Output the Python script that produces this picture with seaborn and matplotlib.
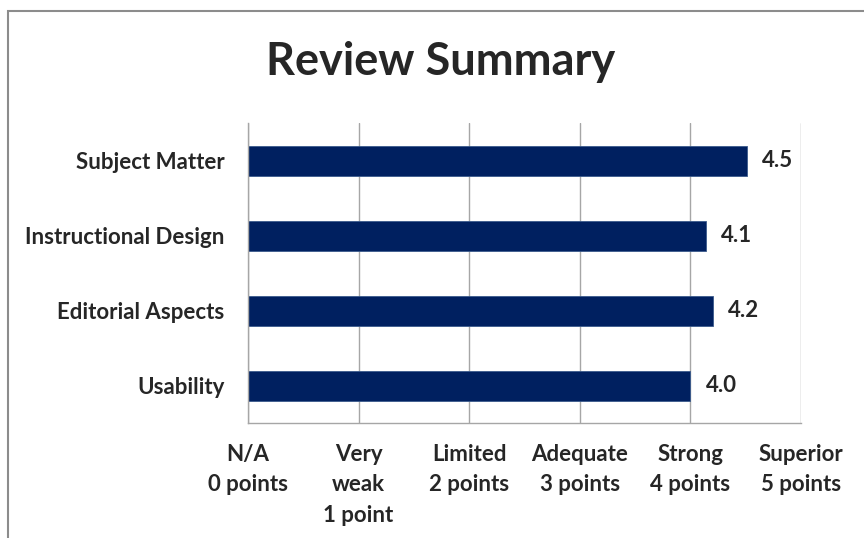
import pandas as pd
import numpy as np
import seaborn as sns
import matplotlib.pyplot as plt
from matplotlib.patches import Rectangle

# data
categories = ['Subject Matter', 'Instructional Design', 'Editorial Aspects', 'Usability']
scores = [4.51, 4.14, 4.20, 4.00]
tick_values = [0, 1, 2, 3, 4, 5]
tick_labels = ['N/A\n0 points', 'Very\nweak\n1 point', 'Limited\n2 points',
               'Adequate\n3 points', 'Strong\n4 points', 'Superior\n5 points']

df = pd.DataFrame({'category': categories, 'score': scores})

sns.set_style('white')
plt.rcParams['font.family'] = ['Lato', 'DejaVu Sans']

fig = plt.figure(figsize=(8.64, 5.38), dpi=100)
ax = fig.add_axes([248/864, 1-423/538, 553/864, 300/538])

sns.barplot(data=df, x='score', y='category', orient='h', color='#002060',
            width=0.4, saturation=1, edgecolor='#3a5a8c', linewidth=0.6, ax=ax)

# value labels at the end of each bar
for i, v in enumerate(scores):
    ax.text(v + 0.14, i, f'{v:.1f}', va='center', ha='left',
            fontsize=16, fontweight='bold')

ax.set_xlim(0, 5)
ax.set_xticks(tick_values)
ax.set_xticklabels(tick_labels, fontsize=16, fontweight='bold', linespacing=1.55)
ax.tick_params(axis='x', length=0, pad=15)
ax.tick_params(axis='y', length=0, pad=17, labelsize=16)
for lbl in ax.get_yticklabels():
    lbl.set_fontweight('bold')
ax.set_xlabel('')
ax.set_ylabel('')

# vertical gridlines
ax.xaxis.grid(True, color='#a6a6a6', linewidth=1)
ax.set_axisbelow(True)
for s in ['top', 'right']:
    ax.spines[s].set_visible(False)
for s in ['left', 'bottom']:
    ax.spines[s].set_color('#a6a6a6')
    ax.spines[s].set_linewidth(1)

fig.text(441/864, 1-62/538, 'Review Summary', ha='center', va='center',
         fontsize=32.5, fontweight='bold')

# chart border (cut off at right and bottom in the original)
fig.patches.append(Rectangle((8/864, -0.1), 1.2, 1-11/538+0.1, transform=fig.transFigure,
                             fill=False, edgecolor='#8c8c8c', linewidth=1.5))

fig.savefig('out.png', dpi=100)
